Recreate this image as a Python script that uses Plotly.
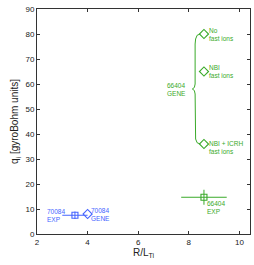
import plotly.graph_objects as go

# Data
exp70084_x = [3.5]
exp70084_y = [7.5]
exp70084_xerr = [0.5]
exp70084_yerr = [1.5]

gene70084_x = [4.0]
gene70084_y = [8.0]

exp66404_x = [8.6]
exp66404_y = [14.7]
exp66404_xerr = [0.9]
exp66404_yerr = [3.0]

gene66404_x = [8.6, 8.6, 8.6]
gene66404_y = [80, 65, 36]
gene66404_labels = ["No<br>fast ions", "NBI<br>fast ions", "NBI + ICRH<br>fast ions"]

# curly brace grouping the GENE 66404 points
brace_x = [8.45, 8.33, 8.27, 8.25, 8.25, 8.22, 8.14, 8.22, 8.25, 8.25, 8.27, 8.33, 8.45]
brace_y = [80, 79.5, 78, 76, 60, 58.6, 58, 57.4, 56, 40, 38, 36.5, 36]

BLUE = "#4464ff"
GREEN = "#3aaa2a"
FONT = "Liberation Sans, Arial, sans-serif"

fig = go.Figure()

fig.add_trace(go.Scatter(
    x=brace_x, y=brace_y, mode="lines",
    line=dict(color=GREEN, width=1), hoverinfo="skip", showlegend=False))

fig.add_trace(go.Scatter(
    x=exp70084_x, y=exp70084_y, mode="markers",
    marker=dict(symbol="square-open", size=6, color=BLUE, line=dict(width=1.1)),
    error_x=dict(type="data", array=exp70084_xerr, color=BLUE, thickness=1, width=0),
    error_y=dict(type="data", array=exp70084_yerr, color=BLUE, thickness=1, width=0),
    showlegend=False))

fig.add_trace(go.Scatter(
    x=gene70084_x, y=gene70084_y, mode="markers",
    marker=dict(symbol="diamond-open", size=7, color=BLUE, line=dict(width=1.1)),
    showlegend=False))

fig.add_trace(go.Scatter(
    x=exp66404_x, y=exp66404_y, mode="markers",
    marker=dict(symbol="square-open", size=6, color=GREEN, line=dict(width=1.1)),
    error_x=dict(type="data", array=exp66404_xerr, color=GREEN, thickness=1, width=0),
    error_y=dict(type="data", array=exp66404_yerr, color=GREEN, thickness=1, width=0),
    showlegend=False))

fig.add_trace(go.Scatter(
    x=gene66404_x, y=gene66404_y, mode="markers",
    marker=dict(symbol="diamond-open", size=7, color=GREEN, line=dict(width=1.1)),
    showlegend=False))

afont = dict(family=FONT, size=6.5)
for x, y, t, ys in zip(gene66404_x, gene66404_y, gene66404_labels, [0, 0, -3]):
    fig.add_annotation(x=x, y=y, text=t, showarrow=False, xanchor="left", yanchor="middle",
                       xshift=3, yshift=ys, align="left", font=dict(color=GREEN, **afont))

fig.add_annotation(x=brace_x[6], y=brace_y[6], text="66404<br>GENE", showarrow=False,
                   xanchor="right", yanchor="middle", xshift=-4, align="left",
                   font=dict(color=GREEN, **afont))
fig.add_annotation(x=exp66404_x[0], y=exp66404_y[0], text="66404<br>EXP", showarrow=False,
                   xanchor="left", yanchor="top", xshift=1, yshift=-1, align="left",
                   font=dict(color=GREEN, **afont))
fig.add_annotation(x=exp70084_x[0], y=exp70084_y[0], text="70084<br>EXP", showarrow=False,
                   xanchor="right", yanchor="middle", xshift=-8, align="left",
                   font=dict(color=BLUE, **afont))
fig.add_annotation(x=gene70084_x[0], y=gene70084_y[0], text="70084<br>GENE", showarrow=False,
                   xanchor="left", yanchor="middle", xshift=1, align="left",
                   font=dict(color=BLUE, **afont))

axis_common = dict(showgrid=False, zeroline=False, showline=True, linecolor="#333",
                   linewidth=1, mirror="ticks", ticks="inside", ticklen=3, tickcolor="#333",
                   automargin=False,
                   tickfont=dict(family=FONT, size=8, color="#222"))

fig.update_xaxes(range=[2, 10.42], tickvals=[2, 4, 6, 8, 10],
                 title=dict(text="R/L<sub>Ti</sub>", font=dict(family=FONT, size=10, color="#222"),
                            standoff=0),
                 **axis_common)
fig.update_yaxes(range=[0, 90], tickvals=list(range(0, 91, 10)),
                 title=dict(text="q<sub>i</sub> [gyroBohm units]",
                            font=dict(family=FONT, size=10, color="#222"), standoff=4),
                 **axis_common)

fig.update_layout(width=254, height=265, margin=dict(l=37, r=4, t=9, b=31),
                  plot_bgcolor="white", paper_bgcolor="white")

fig.write_html("out.html", config={"displayModeBar": False},
               post_script="document.body.style.margin='0';document.body.style.padding='0';")
